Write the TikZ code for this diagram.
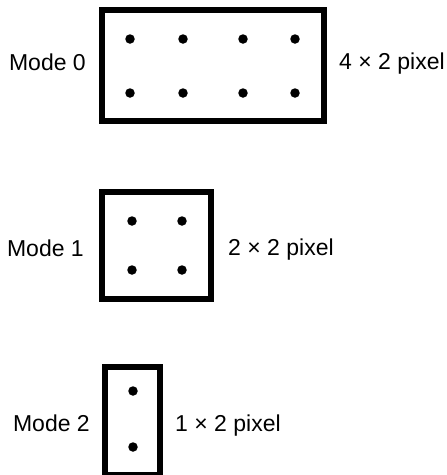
\documentclass[tikz,border=0pt]{standalone}
\usepackage{fontspec}
\setmainfont{Liberation Sans}
\usetikzlibrary{positioning}

\begin{document}
\begin{tikzpicture}[x=1pt,y=-1pt,
                    every node/.style={font=\fontsize{23}{27}\selectfont},
                    cell/.style={draw,line width=6pt,inner sep=0pt},
                    dot/.style={circle,fill,inner sep=0pt,minimum size=9.5pt},
                    lbl/.style={inner sep=0pt}
]
\useasboundingbox (0,0) rectangle (447,475);

% the three character cells
\node [cell,minimum width=222pt,minimum height=111pt] at (213,65.5) (m0) {};
\node [cell,minimum width=109pt,minimum height=107pt] at (156.5,245.5) (m1) {};
\node [cell,minimum width=55pt,minimum height=108pt] at (132.5,421) (m2) {};
%
\node [lbl,anchor=base east] at (86,70.7) (t0) {Mode 0};
\node [lbl,anchor=base east] at (84,256) (t1) {Mode 1};
\node [lbl,anchor=base east] at (90,431.7) (t2) {Mode 2};
%
\node [lbl,anchor=base west] at (339,69) (s0) {4 × 2 pixel};
\node [lbl,anchor=base west] at (228,255) (s1) {2 × 2 pixel};
\node [lbl,anchor=base west] at (175,431) (s2) {1 × 2 pixel};
%
% pixels
\foreach \x in {130,183,243,295}
  \foreach \y in {39,93}
    \node [dot] (p0-\x-\y) at (\x,\y) {};
\foreach \x in {132,182}
  \foreach \y in {221,270}
    \node [dot] (p1-\x-\y) at (\x,\y) {};
\foreach \y in {391,447}
  \node [dot] (p2-\y) at (133,\y) {};
\end{tikzpicture}
\end{document}
